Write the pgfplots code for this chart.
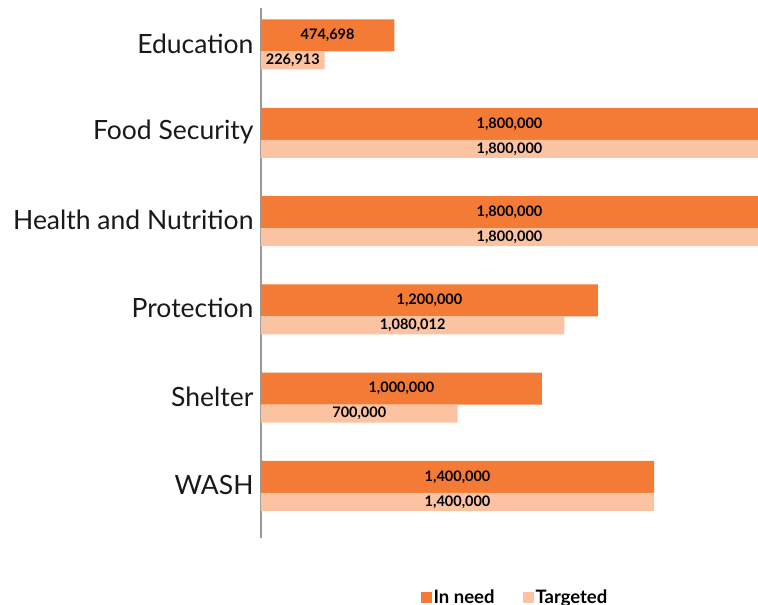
\documentclass[border=0pt]{standalone}
\usepackage{fontspec}
\setmainfont{Lato}
\usepackage{pgfplots}
\usepackage{pgfplotstable}
\pgfplotsset{compat=1.18}
\definecolor{inneed}{HTML}{F47B35}
\definecolor{targeted}{HTML}{FBC3A1}

% sectors, top (5) to bottom (0)
\pgfplotstableread{
pos need target needlbl targetlbl
5 474698 226913 {474,698} {226,913}
4 1800000 1800000 {1,800,000} {1,800,000}
3 1800000 1800000 {1,800,000} {1,800,000}
2 1200000 1080012 {1,200,000} {1,080,012}
1 1000000 700000 {1,000,000} {700,000}
0 1400000 1400000 {1,400,000} {1,400,000}
}\sectors

\begin{document}
\begin{tikzpicture}
\begin{axis}[
  scale only axis,
  width=497pt, height=530pt,
  xmin=0, xmax=1770000,
  ymin=-0.589, ymax=5.413,
  axis x line=none,
  axis y line*=left,
  axis line style={-, draw=black!40, line width=1.3pt},
  ytick={0,...,5},
  yticklabels={WASH, Shelter, Protection, Health and Nutrition, Food Security\hspace{0.3em}, Education},
  major tick length=0pt,
  yticklabel style={font=\fontsize{26.5}{30}\selectfont, text=black!90, xshift=-4pt, yshift=1pt},
  legend columns=2,
  legend style={draw=none, at={(0.511,-0.093)}, anchor=north, inner sep=0pt,
    font=\bfseries\fontsize{18.5}{18.5}\selectfont,
    /tikz/every even column/.append style={column sep=26pt}},
  legend cell align=left,
]
\addplot[xbar, fill=inneed, draw=none, bar width=32pt, bar shift=9pt,
  legend image code/.code={\fill[inneed] (0pt,-5.5pt) rectangle (11pt,5.5pt);}]
  table[x=need, y=pos] {\sectors};
\addlegendentry{In need}
\addplot[xbar, fill=targeted, draw=none, bar width=18pt, bar shift=-16pt,
  legend image code/.code={\fill[targeted] (0pt,-5.5pt) rectangle (11pt,5.5pt);}]
  table[x=target, y=pos] {\sectors};
\addlegendentry{Targeted}
% value labels, centred in the visible part of each bar
\addplot[forget plot, draw=none, mark=none, nodes near coords, point meta=explicit symbolic,
  nodes near coords style={anchor=center, font=\bfseries\fontsize{14.5}{14.5}\selectfont}]
  table[x expr={min(\thisrow{need},1770000)/2}, y expr={\thisrow{pos}+0.102}, meta=needlbl] {\sectors};
\addplot[forget plot, draw=none, mark=none, nodes near coords, point meta=explicit symbolic,
  nodes near coords style={anchor=center, font=\bfseries\fontsize{14.5}{14.5}\selectfont}]
  table[x expr={min(\thisrow{target},1770000)/2}, y expr={\thisrow{pos}-0.181}, meta=targetlbl] {\sectors};
\end{axis}
\pgfresetboundingbox
\useasboundingbox (-261pt,-67pt) rectangle (497pt,538pt);
\end{tikzpicture}
\end{document}
